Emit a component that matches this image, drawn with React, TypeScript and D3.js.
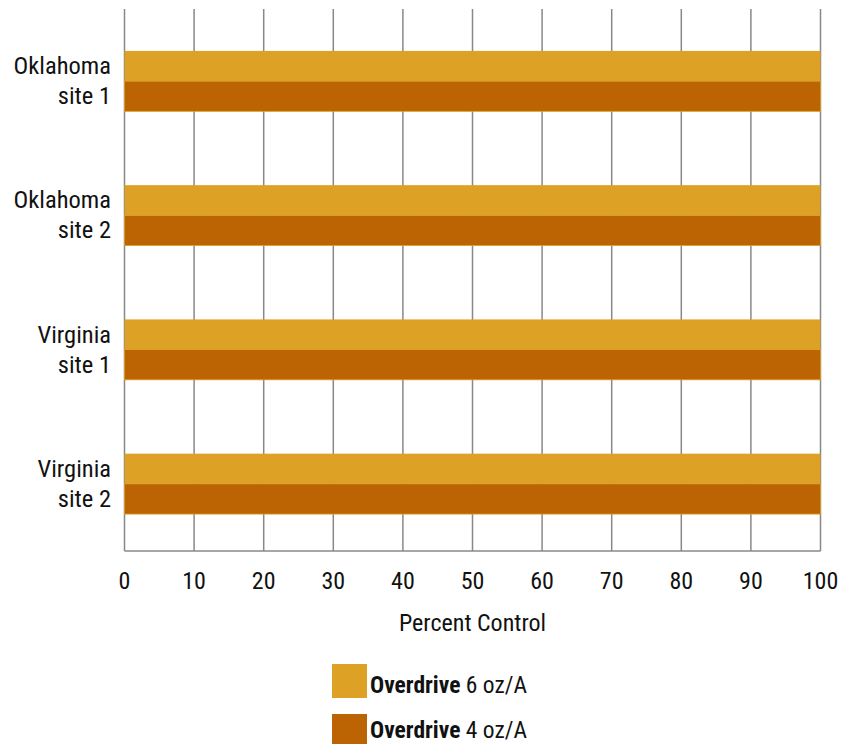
import React from "react";
import * as d3 from "d3";

const categories = [
  ["Oklahoma", "site 1"],
  ["Oklahoma", "site 2"],
  ["Virginia", "site 1"],
  ["Virginia", "site 2"],
];
const seriesNames = ["6 oz/A", "4 oz/A"];
const overdrive6 = [100, 100, 100, 100];
const overdrive4 = [100, 100, 100, 100];
const xTicks = [0, 10, 20, 30, 40, 50, 60, 70, 80, 90, 100];
const colors = ["#DCA125", "#BC6404"];

const W = 854;
const H = 744;
const left = 124.5;
const right = 820.5;
const top = 9;
const bottom = 551;
const font = "'Liberation Sans Narrow', 'Roboto Condensed', Arial, sans-serif";

export default function App() {
  const x = d3.scaleLinear().domain([0, 100]).range([left, right]);
  const keys = categories.map((c) => c.join(" "));
  const y = d3.scaleBand().domain(keys).range([14, 551]).paddingInner(0.55).paddingOuter(0.275);
  const sub = d3.scaleBand().domain(seriesNames).range([0, y.bandwidth()]);
  const series = [overdrive6, overdrive4];
  const legendTop = [664, 714];
  const legendBase = [693, 738];

  return (
    <svg width={W} height={H} style={{ position: "absolute", left: 0, top: 0 }} fontFamily={font}>
      <rect x={0} y={0} width={W} height={H} fill="#fff" />
      {xTicks.map((t) => (
        <line key={t} x1={x(t)} x2={x(t)} y1={top} y2={bottom} stroke="#888" strokeWidth={1.5} />
      ))}
      <line x1={left} x2={right} y1={bottom} y2={bottom} stroke="#888" strokeWidth={1.5} />
      {keys.map((k, i) =>
        series.map((s, j) => (
          <rect
            key={k + j}
            x={x(0)}
            y={(y(k) as number) + (sub(seriesNames[j]) as number)}
            width={x(s[i]) - x(0)}
            height={sub.bandwidth()}
            fill={colors[j]}
            stroke={j === 1 ? colors[0] : "none"}
            strokeWidth={j === 1 ? 0.8 : 0}
          />
        ))
      )}
      {keys.map((k, i) => {
        const c = (y(k) as number) + y.bandwidth() / 2;
        return (
          <text key={k} textAnchor="end" fontSize={24.5} fill="#111">
            <tspan x={111} y={c - 7}>{categories[i][0]}</tspan>
            <tspan x={111} y={c + 23}>{categories[i][1]}</tspan>
          </text>
        );
      })}
      {xTicks.map((t) => (
        <text key={t} x={x(t)} y={589} textAnchor="middle" fontSize={24} fill="#111">
          {t}
        </text>
      ))}
      <text x={(left + right) / 2} y={631} textAnchor="middle" fontSize={24} fill="#111">
        Percent Control
      </text>
      {seriesNames.map((n, j) => (
        <g key={n}>
          <rect x={332} y={legendTop[j]} width={35} height={34} fill={colors[j]} />
          <text x={370} y={legendBase[j]} fontSize={23.5} fill="#111">
            <tspan fontWeight="bold">Overdrive</tspan> {n}
          </text>
        </g>
      ))}
    </svg>
  );
}
